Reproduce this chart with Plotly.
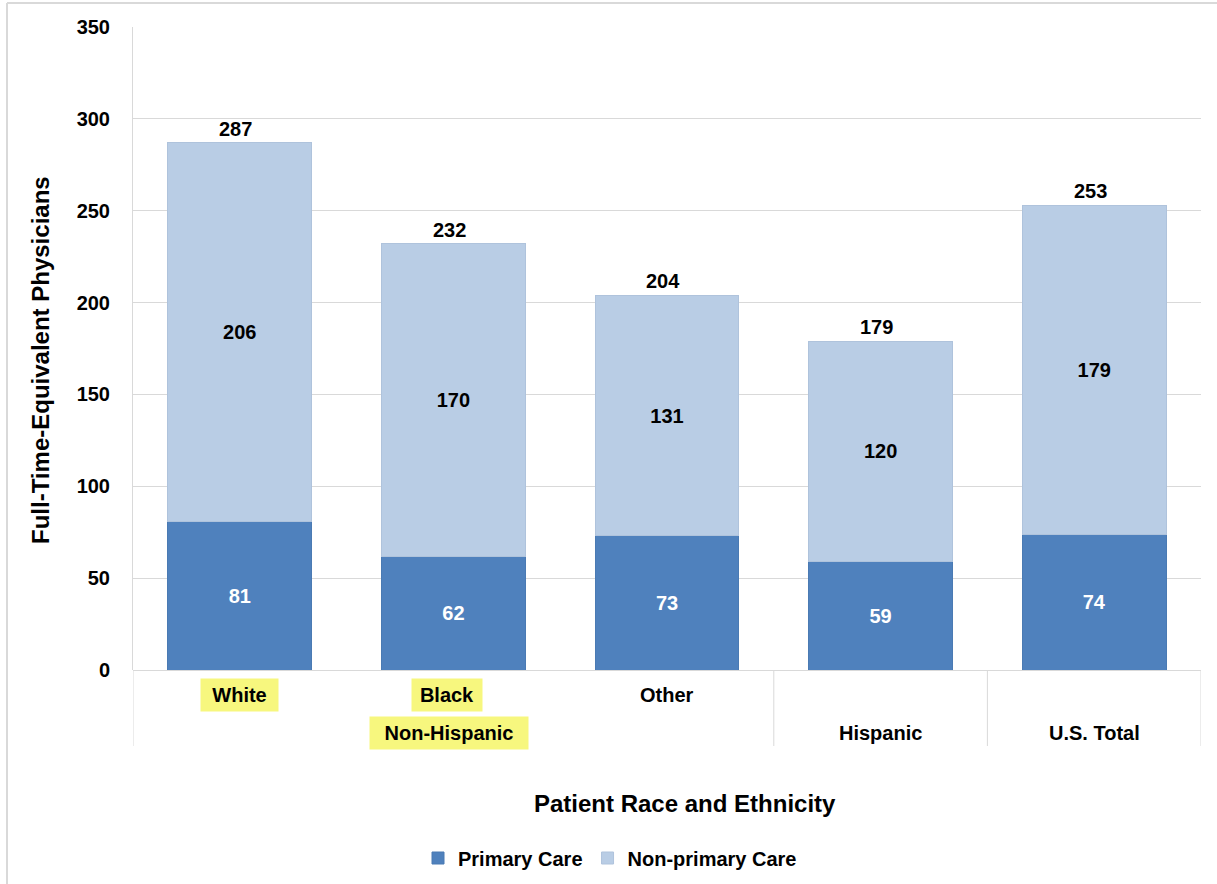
import plotly.graph_objects as go

categories = ["White", "Black", "Other", "Hispanic", "U.S. Total"]
group_labels = ["Non-Hispanic", "Hispanic", "U.S. Total"]
primary = [81, 62, 73, 59, 74]
non_primary = [206, 170, 131, 120, 179]
totals = [287, 232, 204, 179, 253]
y_ticks = [0, 50, 100, 150, 200, 250, 300, 350]

FONT = "Liberation Sans, Arial, sans-serif"
C_PRIM = "#4F81BD"
C_NONP = "#B9CDE5"
GRID = "#D9D9D9"
HL = "#F7F77E"

W, H = 1217, 884
L, R, T, B = 133, 16, 27, 214
pw, ph = W - L - R, H - T - B

def px_x(p):
    return (p - L) / pw

def px_y(p):
    return (H - B - p) / ph

xs = list(range(len(categories)))

fig = go.Figure()
fig.add_trace(go.Bar(
    x=xs, y=primary, name="Primary Care", width=0.674,
    marker=dict(color=C_PRIM, line=dict(color="#4A7AB3", width=1)),
    text=[str(v) for v in primary], textposition="inside",
    insidetextanchor="middle", textangle=0,
    textfont=dict(family=FONT, size=20, color="white", weight="bold"),
))
fig.add_trace(go.Bar(
    x=xs, y=non_primary, name="Non-primary Care", width=0.674,
    marker=dict(color=C_NONP, line=dict(color="#AFC3DC", width=1)),
    text=[str(v) for v in non_primary], textposition="inside",
    insidetextanchor="middle", textangle=0,
    textfont=dict(family=FONT, size=20, color="black", weight="bold"),
))

annotations = []
for i, t in enumerate(totals):
    annotations.append(dict(
        x=xs[i], y=t, xref="x", yref="y", text=f"<b>{t}</b>", showarrow=False,
        yanchor="bottom", yshift=1, xshift=-4, font=dict(family=FONT, size=20, color="black"),
    ))

# category labels (first level)
row1 = -25
row2 = -63
CAT_SIZE = 20
hl_specs = {"White": 67, "Black": 60}
for i, c in enumerate(categories[:3]):
    a = dict(x=xs[i], y=0, xref="x", yref="paper", text=f"<b>{c}</b>", showarrow=False,
             yanchor="middle", yshift=row1, font=dict(family=FONT, size=CAT_SIZE, color="black"))
    if c in hl_specs:
        a.update(bgcolor=HL, borderpad=5, width=hl_specs[c])
        if c == "Black":
            a.update(xshift=-6)
    annotations.append(a)

# group labels (second level)
annotations.append(dict(x=xs[1], y=0, xref="x", yref="paper", text=f"<b>{group_labels[0]}</b>",
                        showarrow=False, yanchor="middle", yshift=row2, xshift=-4,
                        bgcolor=HL, borderpad=5, width=148,
                        font=dict(family=FONT, size=CAT_SIZE, color="black")))
annotations.append(dict(x=xs[3], y=0, xref="x", yref="paper", text=f"<b>{group_labels[1]}</b>",
                        showarrow=False, yanchor="middle", yshift=row2,
                        font=dict(family=FONT, size=CAT_SIZE, color="black")))
annotations.append(dict(x=xs[4], y=0, xref="x", yref="paper", text=f"<b>{group_labels[2]}</b>",
                        showarrow=False, yanchor="middle", yshift=row2,
                        font=dict(family=FONT, size=CAT_SIZE, color="black")))

# axis titles
annotations.append(dict(x=px_x(40), y=px_y(360), xref="paper", yref="paper",
                        xanchor="center", yanchor="middle",
                        text="<b>Full-Time-Equivalent Physicians</b>", textangle=-90,
                        showarrow=False, font=dict(family=FONT, size=24, color="black")))
annotations.append(dict(x=px_x(685), y=px_y(803), xref="paper", yref="paper",
                        xanchor="center", yanchor="middle",
                        text="<b>Patient Race and Ethnicity</b>",
                        showarrow=False, font=dict(family=FONT, size=24, color="black")))

shapes = []
# category separators
for xv in [-0.5, 2.5, 3.5, 4.5]:
    shapes.append(dict(type="line", xref="x", yref="paper", x0=xv, x1=xv,
                       y0=0, y1=px_y(746), line=dict(color=GRID, width=1)))
# outer frame (left and top)
shapes.append(dict(type="line", xref="paper", yref="paper", x0=px_x(7), x1=px_x(7),
                   y0=px_y(3), y1=px_y(884), line=dict(color=GRID, width=2)))
shapes.append(dict(type="line", xref="paper", yref="paper", x0=px_x(7), x1=px_x(1217),
                   y0=px_y(3), y1=px_y(3), line=dict(color=GRID, width=2)))

fig.update_layout(
    width=W, height=H,
    margin=dict(l=L, r=R, t=T, b=B, autoexpand=False),
    paper_bgcolor="white", plot_bgcolor="white",
    barmode="stack",
    showlegend=True,
    legend=dict(orientation="h", x=px_x(610), y=px_y(858), xanchor="center", yanchor="middle",
                traceorder="normal", itemwidth=30,
                font=dict(family=FONT, size=20, color="black", weight="bold")),
    xaxis=dict(range=[-0.5, 4.5], showticklabels=False, showgrid=False, zeroline=False,
               showline=False, fixedrange=True, automargin=False),
    yaxis=dict(range=[0, 350], tickvals=y_ticks, showgrid=True, gridcolor=GRID, gridwidth=1,
               zeroline=True, zerolinecolor=GRID, zerolinewidth=1,
               showline=True, linecolor=GRID, linewidth=1, automargin=False,
               ticklabelstandoff=18,
               tickfont=dict(family=FONT, size=20, color="black", weight="bold")),
    annotations=annotations,
    shapes=shapes,
    uniformtext=dict(mode=False),
)

fig.write_html("out.html")
